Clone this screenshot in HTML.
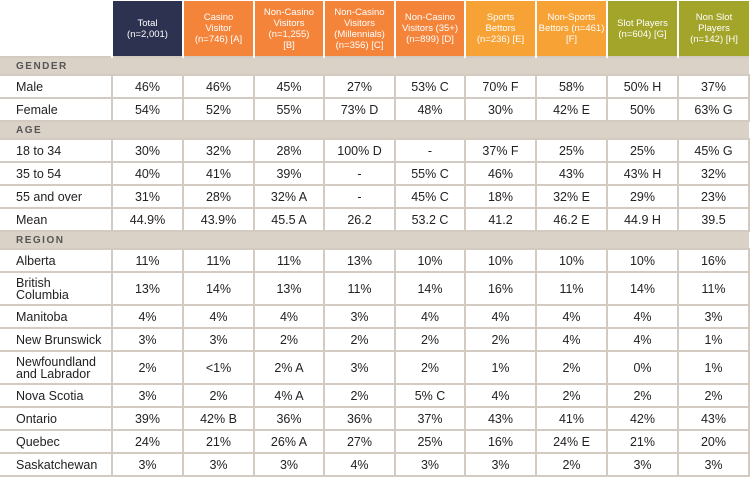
<!DOCTYPE html>
<html><head><style>
body{margin:0;width:750px;height:481px;background:#fff;overflow:hidden;font-family:"Liberation Sans",sans-serif}
table{position:absolute;left:0;top:1px;border-collapse:collapse;table-layout:fixed;width:749px}
td{padding:0;text-align:center;font-size:12.5px;color:#222;border:2px solid #d3cbc1}
td.l{text-align:left;padding-left:16px;border-left:none;line-height:12px}
tr.h td{height:55px;color:#fff;font-size:9.5px;line-height:11px;border:none;border-left:2px solid #fff;vertical-align:middle}
tr.h td.e{background:#fff}
tr.b td{background:#dbd2c7;height:16px;text-align:left;padding-left:16px;font-size:10px;font-weight:bold;letter-spacing:1.5px;color:#555;border-left:none;border-right:none}
tr.r td{height:21px}
tr.r2 td{height:31px}
.n{background:#2d3250}.o{background:#f5843b}.s{background:#f7a234}.g{background:#a3a52b}
</style></head><body>
<table>
<colgroup><col style="width:112px"><col style="width:71px"><col style="width:71px"><col style="width:70px"><col style="width:71px"><col style="width:70px"><col style="width:71px"><col style="width:71px"><col style="width:71px"><col style="width:71px"></colgroup>
<tr class="h"><td class="e" style="border:none"></td><td class="n">Total<br>(n=2,001)</td><td class="o">Casino<br>Visitor<br>(n=746) [A]</td><td class="o">Non-Casino<br>Visitors<br>(n=1,255)<br>[B]</td><td class="o">Non-Casino<br>Visitors<br>(Millennials)<br>(n=356) [C]</td><td class="o">Non-Casino<br>Visitors (35+)<br>(n=899) [D]</td><td class="s">Sports<br>Bettors<br>(n=236) [E]</td><td class="s">Non-Sports<br>Bettors (n=461)<br>[F]</td><td class="g">Slot Players<br>(n=604) [G]</td><td class="g">Non Slot<br>Players<br>(n=142) [H]</td></tr>
<tr class="b"><td colspan="10">GENDER</td></tr>
<tr class="r"><td class="l">Male</td><td>46%</td><td>46%</td><td>45%</td><td>27%</td><td>53% C</td><td>70% F</td><td>58%</td><td>50% H</td><td>37%</td></tr>
<tr class="r"><td class="l">Female</td><td>54%</td><td>52%</td><td>55%</td><td>73% D</td><td>48%</td><td>30%</td><td>42% E</td><td>50%</td><td>63% G</td></tr>
<tr class="b"><td colspan="10">AGE</td></tr>
<tr class="r"><td class="l">18 to 34</td><td>30%</td><td>32%</td><td>28%</td><td>100% D</td><td>-</td><td>37% F</td><td>25%</td><td>25%</td><td>45% G</td></tr>
<tr class="r"><td class="l">35 to 54</td><td>40%</td><td>41%</td><td>39%</td><td>-</td><td>55% C</td><td>46%</td><td>43%</td><td>43% H</td><td>32%</td></tr>
<tr class="r"><td class="l">55 and over</td><td>31%</td><td>28%</td><td>32% A</td><td>-</td><td>45% C</td><td>18%</td><td>32% E</td><td>29%</td><td>23%</td></tr>
<tr class="r"><td class="l">Mean</td><td>44.9%</td><td>43.9%</td><td>45.5 A</td><td>26.2</td><td>53.2 C</td><td>41.2</td><td>46.2 E</td><td>44.9 H</td><td>39.5</td></tr>
<tr class="b"><td colspan="10">REGION</td></tr>
<tr class="r"><td class="l">Alberta</td><td>11%</td><td>11%</td><td>11%</td><td>13%</td><td>10%</td><td>10%</td><td>10%</td><td>10%</td><td>16%</td></tr>
<tr class="r2"><td class="l">British<br>Columbia</td><td>13%</td><td>14%</td><td>13%</td><td>11%</td><td>14%</td><td>16%</td><td>11%</td><td>14%</td><td>11%</td></tr>
<tr class="r"><td class="l">Manitoba</td><td>4%</td><td>4%</td><td>4%</td><td>3%</td><td>4%</td><td>4%</td><td>4%</td><td>4%</td><td>3%</td></tr>
<tr class="r"><td class="l">New Brunswick</td><td>3%</td><td>3%</td><td>2%</td><td>2%</td><td>2%</td><td>2%</td><td>4%</td><td>4%</td><td>1%</td></tr>
<tr class="r2"><td class="l">Newfoundland<br>and Labrador</td><td>2%</td><td>&lt;1%</td><td>2% A</td><td>3%</td><td>2%</td><td>1%</td><td>2%</td><td>0%</td><td>1%</td></tr>
<tr class="r"><td class="l">Nova Scotia</td><td>3%</td><td>2%</td><td>4% A</td><td>2%</td><td>5% C</td><td>4%</td><td>2%</td><td>2%</td><td>2%</td></tr>
<tr class="r"><td class="l">Ontario</td><td>39%</td><td>42% B</td><td>36%</td><td>36%</td><td>37%</td><td>43%</td><td>41%</td><td>42%</td><td>43%</td></tr>
<tr class="r"><td class="l">Quebec</td><td>24%</td><td>21%</td><td>26% A</td><td>27%</td><td>25%</td><td>16%</td><td>24% E</td><td>21%</td><td>20%</td></tr>
<tr class="r"><td class="l">Saskatchewan</td><td>3%</td><td>3%</td><td>3%</td><td>4%</td><td>3%</td><td>3%</td><td>2%</td><td>3%</td><td>3%</td></tr>
</table>
</body></html>
